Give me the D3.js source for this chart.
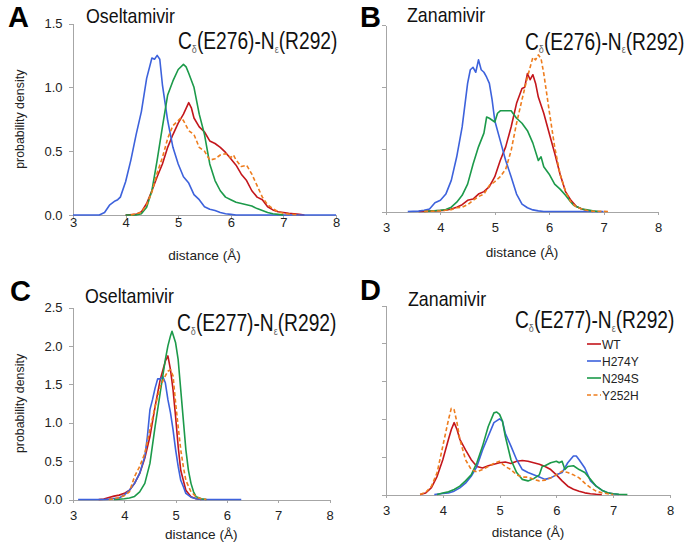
<!DOCTYPE html>
<html>
<head>
<meta charset="utf-8">
<title>distance distributions</title>
<style>
  body { margin: 0; background: #fff; }
  svg { display: block; font-family: "Liberation Sans", Arial, sans-serif; }
  .axis path, .axis line { stroke: #a6a6a6; stroke-width: 1; shape-rendering: crispEdges; }
  .axis text { fill: #222; font-size: 13px; }
</style>
</head>
<body>
<div id="chart"></div>
<script src="https://cdn.jsdelivr.net/npm/d3@7"></script>
<script>
var seriesNames = ["WT", "H274Y", "N294S", "Y252H"];
var seriesColors = ["#c3161c", "#3d62dc", "#1c9a4a", "#ee7d1e"];
var xTicks = [3, 4, 5, 6, 7, 8];
var yTicksLow = [0, 0.5, 1.0, 1.5];
var yTicksHigh = [0, 0.5, 1.0, 1.5, 2.0, 2.5];

// panel A : Oseltamivir, E276-R292
var aWT = [[4.0,0],[4.2,0.005],[4.3,0.025],[4.4,0.09],[4.5,0.19],[4.6,0.30],[4.7,0.40],[4.8,0.53],[4.9,0.63],[5.0,0.72],[5.1,0.79],[5.2,0.88],[5.25,0.84],[5.3,0.76],[5.4,0.69],[5.5,0.65],[5.6,0.58],[5.7,0.56],[5.8,0.53],[5.9,0.49],[6.0,0.44],[6.1,0.39],[6.2,0.32],[6.3,0.27],[6.4,0.19],[6.5,0.14],[6.6,0.12],[6.7,0.065],[6.8,0.04],[6.9,0.025],[7.0,0.02],[7.1,0.013],[7.2,0.01],[7.3,0.005],[7.4,0]];
var aH274Y = [[3.0,0],[3.5,0],[3.6,0.02],[3.7,0.08],[3.8,0.11],[3.85,0.12],[3.9,0.14],[4.0,0.26],[4.1,0.43],[4.2,0.63],[4.3,0.81],[4.4,1.07],[4.5,1.23],[4.55,1.22],[4.6,1.25],[4.65,1.22],[4.7,1.02],[4.8,0.74],[4.9,0.53],[5.0,0.40],[5.1,0.30],[5.2,0.25],[5.3,0.16],[5.4,0.12],[5.5,0.065],[5.6,0.045],[5.7,0.035],[5.8,0.02],[5.9,0.01],[6.0,0.005],[6.1,0],[8.0,0]];
var aN294S = [[4.0,0],[4.2,0],[4.3,0.01],[4.4,0.06],[4.5,0.19],[4.6,0.43],[4.7,0.69],[4.8,0.94],[4.9,1.05],[5.0,1.14],[5.1,1.18],[5.15,1.16],[5.2,1.11],[5.3,1.0],[5.4,0.79],[5.5,0.63],[5.6,0.40],[5.7,0.27],[5.8,0.19],[5.9,0.14],[6.0,0.12],[6.1,0.10],[6.2,0.09],[6.3,0.08],[6.4,0.07],[6.5,0.05],[6.6,0.035],[6.7,0.02],[6.8,0.01],[6.9,0.005],[7.0,0]];
var aY252H = [[4.1,0],[4.3,0.02],[4.4,0.08],[4.5,0.18],[4.6,0.33],[4.7,0.45],[4.8,0.60],[4.9,0.70],[5.0,0.74],[5.05,0.76],[5.1,0.74],[5.2,0.66],[5.3,0.63],[5.4,0.53],[5.5,0.50],[5.6,0.43],[5.7,0.44],[5.8,0.47],[5.9,0.48],[6.0,0.45],[6.05,0.47],[6.1,0.43],[6.2,0.38],[6.3,0.39],[6.4,0.32],[6.5,0.23],[6.6,0.14],[6.7,0.08],[6.8,0.05],[6.9,0.025],[7.0,0.013],[7.1,0.008],[7.2,0.004],[7.3,0]];

// panel B : Zanamivir, E276-R292
var bWT = [[3.6,0],[3.9,0.005],[4.1,0.01],[4.2,0.02],[4.3,0.035],[4.4,0.055],[4.5,0.09],[4.6,0.10],[4.7,0.14],[4.8,0.16],[4.9,0.20],[5.0,0.28],[5.1,0.41],[5.2,0.52],[5.3,0.68],[5.4,0.87],[5.5,0.99],[5.55,1.0],[5.6,1.11],[5.65,1.06],[5.7,1.10],[5.75,1.03],[5.8,0.92],[5.9,0.79],[6.0,0.63],[6.1,0.47],[6.2,0.30],[6.3,0.16],[6.4,0.09],[6.5,0.04],[6.6,0.02],[6.7,0.008],[6.8,0]];
var bH274Y = [[3.4,0],[3.6,0.003],[3.7,0.01],[3.8,0.02],[3.9,0.07],[4.0,0.09],[4.1,0.14],[4.2,0.25],[4.3,0.44],[4.4,0.68],[4.5,1.03],[4.55,1.14],[4.6,1.16],[4.65,1.12],[4.7,1.22],[4.75,1.14],[4.8,1.12],[4.85,1.08],[4.9,1.03],[4.95,0.90],[5.0,0.73],[5.1,0.57],[5.2,0.41],[5.3,0.28],[5.4,0.14],[5.5,0.06],[5.6,0.03],[5.7,0.013],[5.8,0.005],[5.9,0],[7.0,0]];
var bN294S = [[3.7,0],[4.0,0.01],[4.1,0.016],[4.2,0.035],[4.3,0.075],[4.4,0.13],[4.5,0.22],[4.6,0.38],[4.7,0.52],[4.8,0.63],[4.85,0.76],[4.9,0.75],[5.0,0.72],[5.05,0.79],[5.1,0.81],[5.2,0.81],[5.3,0.81],[5.4,0.75],[5.5,0.71],[5.6,0.65],[5.7,0.55],[5.8,0.41],[5.85,0.44],[5.9,0.36],[6.0,0.30],[6.1,0.22],[6.2,0.18],[6.3,0.13],[6.4,0.075],[6.45,0.05],[6.5,0.04],[6.6,0.02],[6.7,0.013],[6.8,0.005],[6.9,0]];
var bY252H = [[3.7,0],[4.0,0.005],[4.2,0.015],[4.3,0.03],[4.4,0.035],[4.5,0.055],[4.6,0.09],[4.7,0.12],[4.8,0.14],[4.9,0.21],[5.0,0.24],[5.1,0.28],[5.2,0.34],[5.3,0.49],[5.4,0.71],[5.5,0.90],[5.6,1.08],[5.65,1.16],[5.7,1.24],[5.75,1.22],[5.8,1.26],[5.85,1.23],[5.9,1.11],[6.0,0.81],[6.1,0.52],[6.2,0.30],[6.3,0.16],[6.4,0.075],[6.5,0.035],[6.6,0.02],[6.7,0.008],[6.8,0.003],[7.1,0]];

// panel C : Oseltamivir, E277-R292
var cWT = [[3.5,0],[3.6,0.005],[3.7,0.026],[3.8,0.044],[3.9,0.057],[4.0,0.08],[4.1,0.12],[4.2,0.21],[4.3,0.34],[4.4,0.54],[4.5,0.82],[4.6,1.21],[4.7,1.56],[4.8,1.80],[4.85,1.87],[4.9,1.69],[4.95,1.43],[5.0,1.08],[5.05,0.69],[5.1,0.38],[5.15,0.25],[5.2,0.12],[5.3,0.035],[5.4,0.01],[5.5,0]];
var cH274Y = [[3.1,0],[3.6,0],[3.7,0.005],[3.9,0.02],[4.0,0.06],[4.1,0.12],[4.2,0.21],[4.3,0.34],[4.4,0.56],[4.45,0.82],[4.5,1.17],[4.55,1.30],[4.6,1.45],[4.65,1.57],[4.7,1.57],[4.75,1.60],[4.8,1.52],[4.85,1.30],[4.9,1.13],[4.95,0.91],[5.0,0.65],[5.05,0.43],[5.1,0.25],[5.15,0.17],[5.2,0.08],[5.3,0.03],[5.4,0.01],[5.5,0],[6.28,0]];
var cN294S = [[3.8,0],[3.9,0.003],[4.0,0.01],[4.1,0.02],[4.2,0.04],[4.3,0.10],[4.4,0.21],[4.5,0.47],[4.6,0.95],[4.7,1.39],[4.8,1.82],[4.85,2.0],[4.9,2.13],[4.93,2.19],[5.0,2.04],[5.05,1.82],[5.1,1.43],[5.15,1.04],[5.2,0.65],[5.25,0.38],[5.3,0.21],[5.35,0.10],[5.4,0.035],[5.5,0.01],[5.6,0]];
var cY252H = [[3.7,0],[3.8,0.01],[3.9,0.026],[4.0,0.05],[4.1,0.10],[4.2,0.30],[4.3,0.43],[4.4,0.60],[4.5,0.91],[4.6,1.21],[4.7,1.47],[4.8,1.61],[4.85,1.67],[4.9,1.69],[4.95,1.61],[5.0,1.26],[5.05,0.95],[5.1,0.65],[5.15,0.43],[5.2,0.25],[5.3,0.10],[5.4,0.035],[5.5,0.01],[5.6,0]];

// panel D : Zanamivir, E277-R292
var dWT = [[3.6,0],[3.7,0.02],[3.8,0.09],[3.9,0.24],[4.0,0.46],[4.1,0.73],[4.15,0.86],[4.2,0.95],[4.25,0.86],[4.3,0.73],[4.4,0.59],[4.5,0.46],[4.6,0.37],[4.7,0.35],[4.8,0.38],[4.9,0.40],[5.0,0.42],[5.1,0.43],[5.2,0.41],[5.3,0.44],[5.4,0.45],[5.5,0.44],[5.6,0.42],[5.7,0.40],[5.8,0.37],[5.9,0.33],[6.0,0.26],[6.1,0.18],[6.2,0.11],[6.3,0.07],[6.4,0.044],[6.5,0.022],[6.6,0.01],[6.7,0.004],[6.8,0]];
var dH274Y = [[3.85,0],[4.0,0.013],[4.1,0.02],[4.2,0.044],[4.3,0.088],[4.4,0.15],[4.5,0.24],[4.6,0.37],[4.7,0.59],[4.8,0.77],[4.9,0.95],[5.0,1.0],[5.05,0.97],[5.1,0.81],[5.2,0.64],[5.3,0.46],[5.4,0.33],[5.5,0.29],[5.6,0.26],[5.7,0.23],[5.8,0.20],[5.9,0.22],[6.0,0.26],[6.1,0.29],[6.2,0.42],[6.3,0.51],[6.35,0.51],[6.4,0.46],[6.5,0.35],[6.6,0.18],[6.7,0.11],[6.8,0.057],[6.9,0.022],[7.0,0.01],[7.1,0]];
var dN294S = [[3.9,0],[4.0,0.02],[4.1,0.035],[4.2,0.066],[4.3,0.11],[4.4,0.18],[4.5,0.26],[4.6,0.42],[4.7,0.64],[4.8,0.90],[4.9,1.08],[4.95,1.09],[5.0,1.06],[5.05,0.97],[5.1,0.77],[5.2,0.46],[5.3,0.29],[5.4,0.20],[5.5,0.18],[5.6,0.21],[5.7,0.26],[5.75,0.37],[5.8,0.38],[5.9,0.42],[6.0,0.44],[6.05,0.42],[6.1,0.44],[6.15,0.33],[6.2,0.37],[6.3,0.38],[6.4,0.33],[6.5,0.29],[6.6,0.20],[6.7,0.11],[6.8,0.057],[6.9,0.022],[7.0,0.01],[7.1,0.004],[7.25,0]];
var dY252H = [[3.6,0],[3.7,0.03],[3.8,0.11],[3.9,0.29],[4.0,0.64],[4.1,0.99],[4.15,1.14],[4.2,1.12],[4.25,0.95],[4.3,0.73],[4.4,0.46],[4.5,0.33],[4.6,0.30],[4.7,0.33],[4.8,0.37],[4.9,0.41],[5.0,0.44],[5.1,0.37],[5.2,0.33],[5.3,0.26],[5.4,0.23],[5.5,0.23],[5.6,0.20],[5.7,0.18],[5.8,0.19],[5.9,0.22],[6.0,0.26],[6.1,0.31],[6.2,0.29],[6.3,0.26],[6.4,0.22],[6.5,0.15],[6.6,0.09],[6.7,0.044],[6.8,0.022],[6.9,0.01],[7.0,0]];

var panels = [
  { letter: "A", drug: "Oseltamivir", res: "E276", series: [aWT, aH274Y, aN294S, aY252H], yMax: 1.5, yTicks: yTicksLow,
    x0: 73, x1: 336, yb: 215, yt: 23.5, labels: true, xPad: 0,
    lx: 8, ly: 27, dx: 86, dy: 23, cx: 178, cy: 49, xlabY: 260, legend: false },
  { letter: "B", drug: "Zanamivir", res: "E276", series: [bWT, bH274Y, bN294S, bY252H], yMax: 1.5, yTicks: yTicksLow,
    x0: 386, x1: 658, yb: 211.5, yt: 25, labels: false, xPad: 8,
    lx: 360, ly: 27, dx: 407, dy: 22, cx: 525, cy: 49.5, xlabY: 257, legend: false },
  { letter: "C", drug: "Oseltamivir", res: "E277", series: [cWT, cH274Y, cN294S, cY252H], yMax: 2.5, yTicks: yTicksHigh,
    x0: 73, x1: 329.5, yb: 499.5, yt: 307.5, labels: true, xPad: 8,
    lx: 10, ly: 301, dx: 85, dy: 303, cx: 177, cy: 331, xlabY: 539, legend: false },
  { letter: "D", drug: "Zanamivir", res: "E277", series: [dWT, dH274Y, dN294S, dY252H], yMax: 2.5, yTicks: yTicksHigh,
    x0: 386, x1: 670, yb: 494.5, yt: 305.5, labels: false, xPad: 8,
    lx: 360, ly: 300, dx: 408, dy: 306, cx: 515, cy: 328, xlabY: 537, legend: true }
];

var svg = d3.select("#chart").append("svg").attr("width", 689).attr("height", 546);

panels.forEach(function(p) {
  var x = d3.scaleLinear().domain([3, 8]).range([p.x0, p.x1]);
  var y = d3.scaleLinear().domain([0, p.yMax]).range([p.yb, p.yt]);
  var g = svg.append("g");

  var xAxis = d3.axisBottom(x).tickValues(xTicks).tickFormat(d3.format("d"))
    .tickSize(3).tickSizeOuter(0).tickPadding(p.xPad);
  g.append("g").attr("class", "axis").attr("transform", "translate(0," + p.yb + ")").call(xAxis);

  var yAxis = d3.axisLeft(y).tickValues(p.yTicks).tickSize(4).tickSizeOuter(0).tickPadding(6)
    .tickFormat(p.labels ? d3.format(".1f") : "");
  g.append("g").attr("class", "axis").attr("transform", "translate(" + (p.x0 - 0.5) + ",0)").call(yAxis);

  var line = d3.line().x(function(d) { return x(d[0]); }).y(function(d) { return y(d[1]); });
  p.series.forEach(function(s, i) {
    g.append("path").datum(s).attr("d", line)
      .attr("fill", "none").attr("stroke", seriesColors[i]).attr("stroke-width", 1.6)
      .attr("stroke-linejoin", "round")
      .attr("stroke-dasharray", i == 3 ? "4,2.5" : null);
  });

  g.append("text").attr("x", p.lx).attr("y", p.ly).attr("font-size", 29).attr("font-weight", "bold")
    .attr("fill", "#000").text(p.letter);
  g.append("text").attr("transform", "translate(" + p.dx + "," + p.dy + ") scale(1,1.1)")
    .attr("font-size", 17.8).attr("fill", "#111").text(p.drug);

  // the label in the figure is stretched vertically
  var t = g.append("text").attr("transform", "translate(" + p.cx + "," + p.cy + ") scale(1,1.2)")
    .attr("font-size", 19.2).attr("fill", "#111");
  t.append("tspan").text("C");
  t.append("tspan").attr("font-size", 9).attr("dy", 3).attr("fill", "#666").text("δ");
  t.append("tspan").attr("dy", -3).text("(" + p.res + ")-N");
  t.append("tspan").attr("font-size", 9).attr("dy", 3).attr("fill", "#666").text("ε");
  t.append("tspan").attr("dy", -3).text("(R292)");

  g.append("text").attr("x", (p.x0 + p.x1) / 2).attr("y", p.xlabY).attr("text-anchor", "middle")
    .attr("font-size", 13.6).attr("fill", "#222").text("distance (Å)");

  if (p.labels) {
    g.append("text").attr("transform", "translate(24," + ((p.yb + p.yt) / 2) + ") rotate(-90)")
      .attr("text-anchor", "middle").attr("font-size", 12.4).attr("fill", "#222").text("probability density");
  }

  if (p.legend) {
    var leg = g.append("g").attr("transform", "translate(587,344)");
    seriesNames.forEach(function(n, i) {
      var row = leg.append("g").attr("transform", "translate(0," + (i * 17) + ")");
      row.append("line").attr("x1", 0).attr("x2", 14).attr("y1", 0).attr("y2", 0)
        .attr("stroke", seriesColors[i]).attr("stroke-width", 1.6)
        .attr("stroke-dasharray", i == 3 ? "4,2.5" : null);
      row.append("text").attr("x", 15).attr("y", 4.5).attr("font-size", 12).attr("fill", "#222").text(n);
    });
  }
});
</script>
</body>
</html>
